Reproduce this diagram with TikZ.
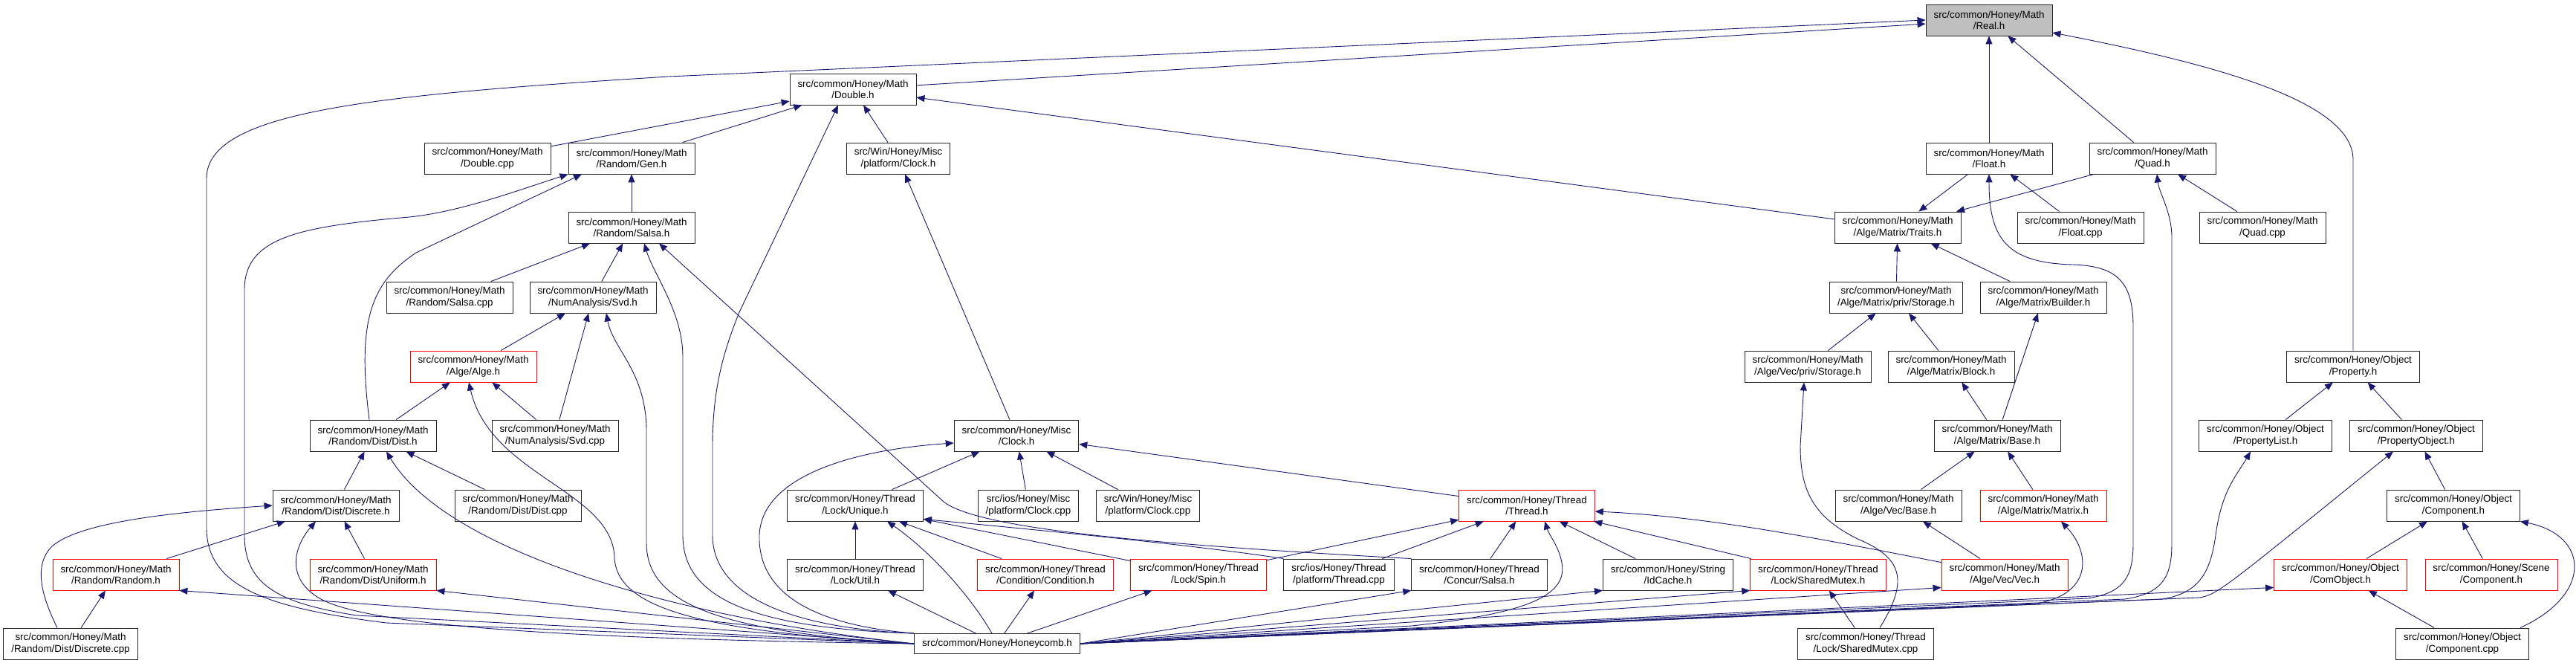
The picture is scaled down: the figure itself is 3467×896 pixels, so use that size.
\documentclass[tikz,border=0pt]{standalone}
\usepackage{fontspec}
\setsansfont{Liberation Sans}
\usepackage{xcolor}
\definecolor{EdgeBlue}{HTML}{191970}
\definecolor{TruncRed}{HTML}{FF0000}
\definecolor{RootGrey}{HTML}{BFBFBF}
\usepackage{tikz}
\usetikzlibrary{arrows.meta,calc}

\begin{document}
\begin{tikzpicture}[
  x=1pt, y=-1pt,
  font=\sffamily\fontsize{13.4}{15.3}\selectfont,
  box/.style={draw=black!85, line width=0.9pt, fill=white, align=center,
              inner xsep=10.5pt, inner ysep=0pt, minimum height=42pt},
  trunc/.style={box, draw=TruncRed},
  root/.style={box, fill=RootGrey},
  dep/.style={-{Triangle[length=11pt,width=9pt]}, line width=0.9pt, EdgeBlue}
]
  \useasboundingbox (0,0) rectangle (3467,896);

  \node[root] (real) at (2677,27) {src/common/Honey/Math\\/Real.h};
  \node[box] (double) at (1148,120) {src/common/Honey/Math\\/Double.h};

  \node[box] (doublecpp) at (656,213) {src/common/Honey/Math\\/Double.cpp};
  \node[box] (gen) at (850,213) {src/common/Honey/Math\\/Random/Gen.h};
  \node[box] (winclockh) at (1209,213) {src/Win/Honey/Misc\\/platform/Clock.h};
  \node[box] (float) at (2677,213) {src/common/Honey/Math\\/Float.h};
  \node[box] (quad) at (2897,213) {src/common/Honey/Math\\/Quad.h};

  \node[box] (salsa) at (850,306) {src/common/Honey/Math\\/Random/Salsa.h};
  \node[box] (traits) at (2554,306) {src/common/Honey/Math\\/Alge/Matrix/Traits.h};
  \node[box] (floatcpp) at (2800,306) {src/common/Honey/Math\\/Float.cpp};
  \node[box] (quadcpp) at (3045,306) {src/common/Honey/Math\\/Quad.cpp};

  \node[box] (salsacpp) at (605,400) {src/common/Honey/Math\\/Random/Salsa.cpp};
  \node[box] (svd) at (798,400) {src/common/Honey/Math\\/NumAnalysis/Svd.h};
  \node[box] (mstorage) at (2552,400) {src/common/Honey/Math\\/Alge/Matrix/priv/Storage.h};
  \node[box] (builder) at (2750,400) {src/common/Honey/Math\\/Alge/Matrix/Builder.h};

  \node[trunc] (alge) at (637,493) {src/common/Honey/Math\\/Alge/Alge.h};
  \node[box] (vstorage) at (2433,493) {src/common/Honey/Math\\/Alge/Vec/priv/Storage.h};
  \node[box] (block) at (2626,493) {src/common/Honey/Math\\/Alge/Matrix/Block.h};
  \node[box] (property) at (3167,493) {src/common/Honey/Object\\/Property.h};

  \node[box] (dist) at (502,586) {src/common/Honey/Math\\/Random/Dist/Dist.h};
  \node[box] (svdcpp) at (747,586) {src/common/Honey/Math\\/NumAnalysis/Svd.cpp};
  \node[box] (clock) at (1368,586) {src/common/Honey/Misc\\/Clock.h};
  \node[box] (mbase) at (2688,586) {src/common/Honey/Math\\/Alge/Matrix/Base.h};
  \node[box] (proplist) at (3049,586) {src/common/Honey/Object\\/PropertyList.h};
  \node[box] (propobj) at (3252,586) {src/common/Honey/Object\\/PropertyObject.h};

  \node[box] (discrete) at (452,680) {src/common/Honey/Math\\/Random/Dist/Discrete.h};
  \node[box] (distcpp) at (697,680) {src/common/Honey/Math\\/Random/Dist/Dist.cpp};
  \node[box] (unique) at (1151,680) {src/common/Honey/Thread\\/Lock/Unique.h};
  \node[box] (iosclockcpp) at (1384,680) {src/ios/Honey/Misc\\/platform/Clock.cpp};
  \node[box] (winclockcpp) at (1545,680) {src/Win/Honey/Misc\\/platform/Clock.cpp};
  \node[trunc] (thread) at (2055,680) {src/common/Honey/Thread\\/Thread.h};
  \node[box] (vbase) at (2555,680) {src/common/Honey/Math\\/Alge/Vec/Base.h};
  \node[trunc] (matrix) at (2750,680) {src/common/Honey/Math\\/Alge/Matrix/Matrix.h};
  \node[box] (component) at (3302,680) {src/common/Honey/Object\\/Component.h};

  \node[trunc] (random) at (156,773) {src/common/Honey/Math\\/Random/Random.h};
  \node[trunc] (uniform) at (502,773) {src/common/Honey/Math\\/Random/Dist/Uniform.h};
  \node[box] (util) at (1151,773) {src/common/Honey/Thread\\/Lock/Util.h};
  \node[trunc] (condition) at (1407,773) {src/common/Honey/Thread\\/Condition/Condition.h};
  \node[trunc] (spin) at (1613,773) {src/common/Honey/Thread\\/Lock/Spin.h};
  \node[box] (iosthreadcpp) at (1802,773) {src/ios/Honey/Thread\\/platform/Thread.cpp};
  \node[box] (concur) at (1991,773) {src/common/Honey/Thread\\/Concur/Salsa.h};
  \node[box] (idcache) at (2245,773) {src/common/Honey/String\\/IdCache.h};
  \node[trunc] (sharedmutex) at (2447,773) {src/common/Honey/Thread\\/Lock/SharedMutex.h};
  \node[trunc] (vec) at (2698,773) {src/common/Honey/Math\\/Alge/Vec/Vec.h};
  \node[trunc] (comobject) at (3150,773) {src/common/Honey/Object\\/ComObject.h};
  \node[trunc] (scenecomp) at (3353,773) {src/common/Honey/Scene\\/Component.h};

  \node[box] (discretecpp) at (95,866) {src/common/Honey/Math\\/Random/Dist/Discrete.cpp};
  \node[box, minimum height=27pt] (honeycomb) at (1342,866) {src/common/Honey/Honeycomb.h};
  \node[box] (sharedmutexcpp) at (2511,866) {src/common/Honey/Thread\\/Lock/SharedMutex.cpp};
  \node[box] (componentcpp) at (3314,866) {src/common/Honey/Object\\/Component.cpp};

  \draw[dep] (double) -- (real);
  \draw[dep] (float) -- (real);
  \draw[dep] (quad) -- (real);
  \draw[dep] (property.north) -- (3167,215) .. controls (3167,140) and (3000,90) .. ($(real.east)+(0,17)$);
  \draw[dep] (honeycomb.west) -- (520,838) .. controls (360,818) and (278,790) .. (278,710) -- (278,240) .. controls (278,150) and (500,128) .. (900,103) -- (real.west);

  \draw[dep] (doublecpp) -- (double);
  \draw[dep] (gen) -- (double);
  \draw[dep] (winclockh) -- (double);
  \draw[dep] (traits) -- (double);
  \draw[dep] (honeycomb.north west) .. controls (1060,845) and (959,800) .. (959,720) -- (959,600) .. controls (959,520) and (975,470) .. (995,420) -- ($(double.south)+(-20,0)$);

  \draw[dep] (salsa) -- (gen);
  \draw[dep] ($(dist.north)+(-5,0)$) .. controls (480,430) and (500,380) .. (560,340) -- ($(gen.south)+(-67,0)$);
  \draw[dep] (honeycomb.west) -- (480,828) .. controls (380,812) and (329,790) .. (329,720) -- (329,390) .. controls (329,320) and (400,305) .. (551,292) .. controls (620,285) and (700,255) .. (gen.south west);

  \draw[dep] (salsacpp) -- (salsa);
  \draw[dep] (svd) -- (salsa);
  \draw[dep] (honeycomb.north west) .. controls (1000,845) and (919,800) .. (919,720) -- (919,480) .. controls (919,420) and (880,370) .. ($(salsa.south)+(17,0)$);
  \draw[dep] (concur.north west) .. controls (1600,735) and (1320,715) .. (1270,675) -- ($(salsa.south)+(37,0)$);

  \draw[dep] (alge) -- (svd);
  \draw[dep] (svdcpp) -- (svd);
  \draw[dep] (honeycomb.west) .. controls (960,850) and (870,810) .. (870,730) -- (870,580) .. controls (870,500) and (825,470) .. ($(svd.south)+(18,0)$);

  \draw[dep] (dist) -- (alge);
  \draw[dep] (svdcpp) -- (alge);
  \draw[dep] (honeycomb.west) .. controls (950,850) and (830,820) .. (827,750) .. controls (824,660) and (660,640) .. ($(alge.south)+(-6,0)$);

  \draw[dep] (discrete) -- (dist);
  \draw[dep] (distcpp) -- (dist);
  \draw[dep] (honeycomb.west) .. controls (900,830) and (600,740) .. ($(dist.south)+(18,0)$);

  \draw[dep] (random) -- (discrete);
  \draw[dep] (uniform) -- (discrete);
  \draw[dep] ($(discretecpp.north)+(-18,0)$) .. controls (55,800) and (45,760) .. (70,735) .. controls (110,700) and (250,688) .. (discrete.west);
  \draw[dep] (honeycomb.west) .. controls (800,860) and (500,845) .. (430,805) .. controls (380,775) and (400,730) .. ($(discrete.south)+(-27,0)$);

  \draw[dep] (discretecpp) -- (random);
  \draw[dep] (honeycomb.west) -- (random.south east);
  \draw[dep] (honeycomb.west) -- (uniform.south east);

  \draw[dep] (clock) -- (winclockh);
  \draw[dep] (unique) -- (clock);
  \draw[dep] (iosclockcpp) -- (clock);
  \draw[dep] (winclockcpp) -- (clock);
  \draw[dep] (thread) -- (clock);
  \draw[dep] (honeycomb.north west) .. controls (1080,840) and (1020,790) .. (1022,720) .. controls (1025,640) and (1150,605) .. ($(clock.west)+(0,10)$);

  \draw[dep] (util) -- (unique);
  \draw[dep] (condition) -- (unique);
  \draw[dep] (spin) -- (unique);
  \draw[dep] (iosthreadcpp.north west) .. controls (1620,735) and (1420,715) .. ($(unique.south east)+(0,-3)$);
  \draw[dep] ($(honeycomb.north)+(-7,0)$) .. controls (1305,800) and (1250,740) .. ($(unique.south)+(43,0)$);
  \draw[dep] (honeycomb) -- (util);
  \draw[dep] (honeycomb) -- (condition);
  \draw[dep] (honeycomb) -- (spin);

  \draw[dep] (spin) -- (thread);
  \draw[dep] (iosthreadcpp) -- (thread);
  \draw[dep] (concur) -- (thread);
  \draw[dep] (idcache) -- (thread);
  \draw[dep] (sharedmutex) -- (thread);
  \draw[dep] ($(vec.north west)+(0,5)$) .. controls (2450,725) and (2300,695) .. ($(thread.east)+(0,8)$);
  \draw[dep] (honeycomb.east) -- (1900,842) .. controls (2060,825) and (2110,800) .. (2102,757) .. controls (2098,735) and (2085,720) .. ($(thread.south)+(24,0)$);

  \draw[dep] (sharedmutexcpp) -- (sharedmutex);
  \draw[dep] ($(sharedmutexcpp.north)+(19,0)$) .. controls (2570,780) and (2560,750) .. (2500,725) .. controls (2440,695) and (2423,660) .. (2423,600) -- ($(vstorage.south)+(-5,0)$);

  \draw[dep] (vec) -- (vbase);
  \draw[dep] (vbase) -- (mbase);
  \draw[dep] (matrix) -- (mbase);
  \draw[dep] (mbase) -- (block);
  \draw[dep] (mbase) -- (builder);
  \draw[dep] (block) -- (mstorage);
  \draw[dep] (vstorage) -- (mstorage);
  \draw[dep] (mstorage) -- (traits);
  \draw[dep] (builder) -- (traits);
  \draw[dep] (float) -- (traits);
  \draw[dep] (quad) -- (traits);
  \draw[dep] (floatcpp) -- (float);
  \draw[dep] (quadcpp) -- (quad);

  \draw[dep] (honeycomb.east) -- (concur.south west);
  \draw[dep] (honeycomb.east) -- (idcache.south west);
  \draw[dep] (honeycomb.east) -- (sharedmutex.south west);
  \draw[dep] (honeycomb.east) -- ($(vec.south west)+(0,-4)$);
  \draw[dep] (honeycomb.east) -- (2740,812) .. controls (2815,800) and (2815,745) .. ($(matrix.south)+(24,0)$);
  \draw[dep] (honeycomb.east) -- (2810,805) .. controls (2860,797) and (2871,775) .. (2871,730) -- (2871,440) .. controls (2871,380) and (2850,358) .. (2790,356) .. controls (2700,354) and (2677,320) .. (float.south);
  \draw[dep] (honeycomb.east) -- (2860,806) .. controls (2912,798) and (2923,775) .. (2923,730) -- (2923,320) .. controls (2923,285) and (2906,260) .. ($(quad.south)+(6,0)$);
  \draw[dep] (honeycomb.east) -- (2910,806) .. controls (2960,798) and (2975,770) .. (2982,720) .. controls (2990,660) and (3010,640) .. ($(proplist.south)+(-20,0)$);
  \draw[dep] (honeycomb.east) -- (2960,804) .. controls (2985,800) and (2995,790) .. ($(propobj.south)+(-31,0)$);
  \draw[dep] (honeycomb.east) -- ($(comobject.south west)+(0,-4)$);

  \draw[dep] (proplist) -- (property);
  \draw[dep] (propobj) -- (property);
  \draw[dep] (component) -- (propobj);
  \draw[dep] (comobject) -- (component);
  \draw[dep] (scenecomp) -- (component);
  \draw[dep] (componentcpp) -- (comobject);
  \draw[dep] ($(componentcpp.north east)+(-12,0)$) .. controls (3490,800) and (3485,720) .. (component.south east);
\end{tikzpicture}
\end{document}
